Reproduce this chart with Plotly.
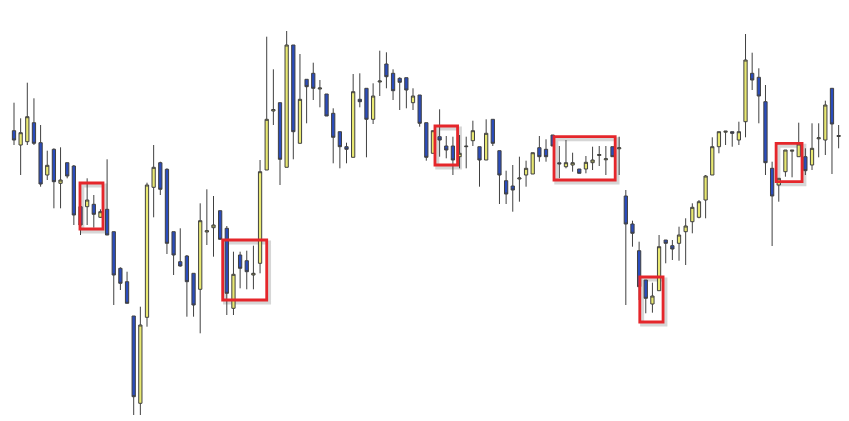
import plotly.graph_objects as go

# ---- data (price units) ----
bar_index = list(range(126))

open_ = [290.3, 276, 279.3, 298.3, 278.3, 246, 271.7, 237.7, 258.3, 255,
         214.3, 214.3, 216.7, 203.7, 211.7, 189.3, 152.7, 139.3, 105, 17.7,
         103.7, 233.7, 258.3, 251.7, 189.3, 159.3, 165, 147.7, 131.7, 189,
         193.3, 210.3, 192.7, 112.7, 166, 160.3, 146, 157.7, 251, 310,
         318.3, 253.7, 376, 277.7, 341.7, 347.7, 332, 327, 307.7, 289.3,
         274.3, 263.7, 321.7, 332.7, 301.7, 339, 357, 347.7, 342.7, 343.3,
         318.3, 326, 298.3, 267.7, 284.3, 275, 275, 264.3, 274.3, 280.3,
         274.3, 261, 301.7, 270.3, 240.3, 235, 242, 246, 247, 273.3,
         271.7, 286, 258.2, 254.3, 256, 252, 252, 258.3, 265.5, 261.2,
         274.3, 272.2, 225, 197, 170.3, 141, 117, 130.3, 181, 175.3,
         177.7, 189.3, 199.3, 203.7, 221, 246, 274.3, 288.8, 289.3, 281,
         299.3, 347.7, 343.7, 319.3, 252.7, 236, 249.3, 269.8, 264.3, 264.3,
         256, 282.2, 281, 332.7, 284.5, 289.3]

high = [318.3, 302.7, 338.3, 322.7, 296, 270.3, 272.7, 273.7, 258.3, 256,
        214.3, 242.7, 226, 211.7, 261.7, 189.3, 153.7, 149.3, 105, 114.3,
        238.3, 276, 259.3, 252.7, 189.3, 192.7, 166, 147.7, 217.7, 231.7,
        225, 210.3, 195, 169.3, 169.3, 170.3, 175.3, 261, 384.3, 351.7,
        318.3, 390, 376, 367, 341.7, 358.3, 341, 327, 312.7, 289.3,
        278.3, 347, 347.7, 332.7, 337.7, 370.3, 368.7, 351.7, 343.7, 343.3,
        332.7, 326, 298.3, 290.3, 311.7, 285, 284.3, 286, 284.3, 300.3,
        274.3, 301.7, 301.7, 270.3, 250.3, 256, 264.3, 260.3, 268.3, 285,
        281.7, 286, 275, 281, 268.3, 252, 265, 274.3, 275, 275,
        274.3, 284.3, 231, 200.3, 179.3, 141, 138.3, 186, 181, 181,
        194.3, 202.7, 217.7, 221, 246, 283.7, 289.3, 290, 289.3, 299.3,
        387, 368.3, 352.7, 336, 259.3, 242.7, 271, 271, 298.3, 272.7,
        297.7, 297.7, 320.3, 332.7, 296, 289.3]

low = [276, 246, 276, 276, 234.3, 241, 212.7, 212.7, 242.7, 196,
       186, 196, 193.3, 203, 186, 116, 131, 117.7, 6, 6,
       94.3, 203.7, 226, 167, 146, 154.3, 104.3, 104.3, 87.7, 176,
       164.3, 181.7, 106, 106, 132.7, 131.7, 131.7, 147.7, 251, 296,
       236, 253.7, 261.7, 277.7, 297.7, 321, 313.7, 305, 257.7, 252.7,
       257.7, 263.7, 313.7, 263.7, 297, 325, 332.7, 321, 311, 312.7,
       311, 294.3, 260.3, 267.7, 264.3, 262.7, 246, 252.7, 252.7, 275,
       234.3, 261, 275, 217, 217, 209.3, 219.3, 234.3, 247, 259.3,
       259.3, 275, 242.7, 252.7, 249.3, 247.7, 247.7, 251, 255, 246,
       264.3, 246, 116, 174.3, 121, 107.7, 108.3, 130.3, 157.7, 161,
       160.3, 156, 187.7, 202.7, 202.7, 246, 267.7, 276, 274.3, 276,
       283.7, 331, 297.7, 246, 175, 219.3, 244.3, 243.7, 264.3, 246,
       251, 263.7, 266, 247, 272.7, 246]

close = [281, 288.3, 304.3, 277.7, 237, 255.7, 239.3, 241, 245, 206,
         196, 221, 206.7, 209.3, 186, 146, 137.7, 117.7, 24.3, 96,
         236, 253.7, 231.7, 177.7, 166, 155, 139.3, 116, 200.3, 190.3,
         196, 181.7, 127.7, 146.7, 152.7, 149.3, 147.7, 249.3, 301.7, 311.5,
         261.7, 376, 289.3, 321.7, 334.3, 332.7, 333, 305, 283.7, 274.3,
         271.7, 329.3, 319.3, 301.7, 325, 340, 344.3, 330.3, 338.7, 331,
         325, 297.7, 263.7, 290.3, 281, 271, 261, 267.7, 274.8, 290.3,
         261, 287.7, 277.7, 246, 227, 231, 243, 252.7, 268.3, 264.3,
         264.3, 275, 257.2, 258.3, 258.3, 247.7, 258.7, 261, 266.5, 262.2,
         264.3, 273.2, 197, 187.7, 134.3, 122.7, 125, 174.3, 177.7, 172,
         186, 195, 213.7, 219.3, 245, 274.3, 289.3, 289.8, 287.7, 289.3,
         361, 341, 325, 258.3, 225, 242.7, 271, 270.8, 277, 250.3,
         272.7, 283.2, 316, 297, 285.5, 251.7]

# highlighted groups: (index from, index to, price low, price high)
highlight_boxes = [
    (9.92, 13.38, 192, 238),
    (31.38, 38.0, 121, 181),
    (63.3, 66.7, 256, 295),
    (81.2, 90.4, 241, 284.3),
    (94.1, 97.6, 99, 144),
    (114.6, 118.5, 239.3, 277.7),
]

# ---- styles ----
UP_FILL = "#E8E872"
DOWN_FILL = "#2A4CBC"
OUTLINE = "#404040"
BOX_RED = "#E5262B"

fig = go.Figure()
fig.add_trace(go.Candlestick(
    x=bar_index, open=open_, high=high, low=low, close=close,
    increasing=dict(fillcolor=UP_FILL, line=dict(color=OUTLINE, width=1)),
    decreasing=dict(fillcolor=DOWN_FILL, line=dict(color=OUTLINE, width=1)),
    whiskerwidth=0, showlegend=False, hoverinfo="skip",
))

shapes = []
for x0, x1, y0, y1 in highlight_boxes:
    # soft drop shadow
    shapes.append(dict(type="rect", xref="x", yref="y",
                       x0=x0 + 0.35, x1=x1 + 0.35, y0=y0 - 2.5, y1=y1 - 2.5,
                       line=dict(color="rgba(90,90,90,0.25)", width=4),
                       fillcolor="rgba(0,0,0,0)", layer="below"))
    shapes.append(dict(type="rect", xref="x", yref="y",
                       x0=x0, x1=x1, y0=y0, y1=y1,
                       line=dict(color=BOX_RED, width=2.8),
                       fillcolor="rgba(0,0,0,0)", layer="above"))

# the page body has an 8px margin, so the figure is sized to fit inside it
fig.update_layout(
    width=841, height=413,
    margin=dict(l=0, r=0, t=0, b=0),
    paper_bgcolor="white", plot_bgcolor="white",
    shapes=shapes,
    xaxis=dict(range=[-0.902, 125.56], visible=False, showgrid=False,
               zeroline=False, rangeslider=dict(visible=False), fixedrange=True),
    yaxis=dict(range=[0, 413], visible=False, showgrid=False,
               zeroline=False, fixedrange=True),
    showlegend=False,
)

fig.write_html("out.html", config={"displayModeBar": False})
